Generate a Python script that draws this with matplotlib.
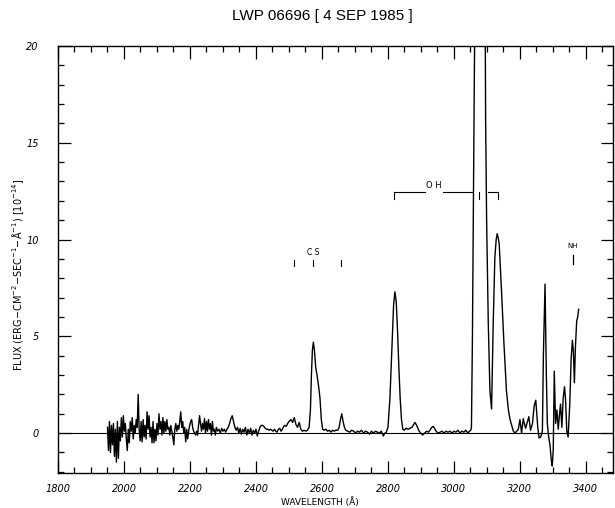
import numpy as np
import matplotlib.pyplot as plt
from matplotlib.ticker import MultipleLocator

# espectro (longitud de onda en A, flujo en 1e-14)
wave = [1950, 1953, 1956, 1959, 1962, 1965, 1968, 1971, 1974, 1977,
        1980, 1983, 1986, 1989, 1992, 1995, 1998, 2001, 2004, 2007,
        2010, 2013, 2016, 2019, 2022, 2025, 2028, 2031, 2034, 2037,
        2040, 2043, 2046, 2049, 2052, 2055, 2058, 2061, 2064, 2067,
        2070, 2073, 2076, 2079, 2082, 2085, 2088, 2091, 2094, 2097,
        2100, 2103, 2106, 2109, 2112, 2115, 2118, 2121, 2124, 2127,
        2130, 2133, 2136, 2139, 2142, 2145, 2148, 2151, 2154, 2157,
        2160, 2163, 2166, 2169, 2172, 2175, 2178, 2181, 2184, 2187,
        2190, 2193, 2196, 2199, 2202, 2205, 2208, 2211, 2214, 2217,
        2220, 2223, 2226, 2229, 2232, 2235, 2238, 2241, 2244, 2247,
        2250, 2253, 2256, 2259, 2262, 2265, 2268, 2271, 2274, 2277,
        2280, 2284, 2288, 2292, 2296, 2300, 2304, 2308, 2312, 2316,
        2320, 2324, 2328, 2332, 2336, 2340, 2344, 2348, 2352, 2356,
        2360, 2364, 2368, 2372, 2376, 2380, 2384, 2388, 2392, 2396,
        2400, 2404, 2408, 2412, 2416, 2420, 2424, 2428, 2432, 2436,
        2440, 2444, 2448, 2452, 2456, 2460, 2464, 2468, 2472, 2476,
        2480, 2484, 2488, 2492, 2496, 2500, 2506, 2511, 2516, 2521,
        2526, 2531, 2536, 2541, 2546, 2551, 2556, 2561, 2565, 2568,
        2571, 2574, 2577, 2581, 2585, 2590, 2594, 2598, 2602, 2607,
        2612, 2617, 2622, 2627, 2632, 2637, 2642, 2648, 2652, 2656,
        2660, 2664, 2668, 2672, 2678, 2684, 2690, 2696, 2702, 2708,
        2714, 2720, 2726, 2732, 2738, 2744, 2750, 2756, 2762, 2768,
        2774, 2780, 2786, 2790, 2794, 2800, 2806, 2812, 2817, 2821,
        2825, 2829, 2833, 2837, 2841, 2845, 2849, 2855, 2861, 2867,
        2873, 2878, 2882, 2887, 2893, 2899, 2905, 2911, 2917, 2923,
        2929, 2933, 2937, 2941, 2946, 2952, 2958, 2964, 2970, 2976,
        2982, 2988, 2994, 3000, 3006, 3012, 3018, 3024, 3030, 3036,
        3042, 3047, 3051, 3053, 3056, 3059, 3062, 3066, 3072, 3078,
        3084, 3090, 3094, 3096, 3099, 3104, 3109, 3114, 3119, 3124,
        3128, 3131, 3134, 3137, 3140, 3144, 3151, 3159, 3165, 3170,
        3175, 3180, 3185, 3190, 3195, 3200, 3205, 3210, 3217, 3223,
        3227, 3232, 3238, 3243, 3248, 3254, 3258, 3263, 3268, 3271,
        3276, 3280, 3283, 3287, 3291, 3295, 3298, 3301, 3304, 3308,
        3312, 3316, 3320, 3323, 3327, 3331, 3335, 3338, 3342, 3346,
        3351, 3355, 3359, 3362, 3365, 3368, 3372, 3375, 3378]

flux = [0.3, -0.9, 0.6, -1.0, 0.4, -0.6, 0.5, -1.2, 0.2, -1.5,
        0.6, -1.3, 0.3, -0.4, 0.8, -0.2, 0.9, 0.1, 0.5, -0.3,
        -0.9, 0.2, -0.5, 0.6, 0.1, 0.8, -0.3, 0.4, 0.0, 0.7,
        0.3, 2.0, 0.2, -0.4, 0.6, -0.45, 0.7, -0.2, 0.4, -0.3,
        1.1, 0.2, 0.9, -0.2, 0.3, -0.5, 0.6, -0.5, 0.2, -0.4,
        0.5, -0.1, 1.0, 0.2, 0.6, -0.1, 0.8, 0.0, 0.6, 0.1,
        0.7, 0.2, 0.3, -0.1, 0.4, 0.1, -0.2, -0.6, 0.2, 0.5,
        0.1, 0.4, 0.2, 0.6, 1.1, 0.3, 0.6, 0.0, 0.3, -0.45,
        0.2, -0.3, 0.1, 0.4, 0.6, 0.7, 0.3, 0.1, 0.0, -0.1,
        0.1, -0.1, 0.4, 0.9, 0.5, 0.1, 0.5, 0.2, 0.75, 0.0,
        0.6, 0.1, 0.7, 0.2, 0.5, -0.1, 0.6, 0.1, 0.2, -0.1,
        0.3, 0.1, 0.2, 0.0, 0.25, 0.1, 0.2, 0.05, 0.2, 0.3,
        0.5, 0.75, 0.9, 0.6, 0.3, 0.15, 0.3, 0.0, 0.25, -0.05,
        0.2, 0.05, 0.3, -0.1, 0.2, 0.0, 0.25, -0.1, 0.15, 0.0,
        0.2, -0.15, 0.1, 0.3, 0.4, 0.4, 0.35, 0.25, 0.2, 0.2,
        0.15, 0.2, 0.15, 0.1, 0.2, 0.1, 0.05, 0.2, 0.25, 0.1,
        0.2, 0.35, 0.4, 0.35, 0.5, 0.6, 0.7, 0.55, 0.8, 0.45,
        0.3, 0.55, 0.2, 0.1, 0.15, 0.1, 0.15, 0.3, 1.2, 3.0,
        4.3, 4.7, 4.3, 3.4, 3.0, 2.4, 1.8, 0.7, 0.2, 0.15,
        0.2, 0.1, 0.15, 0.05, 0.15, 0.1, 0.15, 0.15, 0.3, 0.7,
        1.0, 0.6, 0.3, 0.15, 0.1, 0.05, 0.15, 0.1, 0.0, 0.1,
        0.05, 0.15, 0.0, 0.1, 0.05, -0.05, 0.1, 0.0, 0.1, 0.05,
        0.0, 0.1, -0.15, 0.0, 0.0, 0.3, 1.8, 4.5, 6.6, 7.3,
        6.8, 5.3, 3.4, 1.8, 0.7, 0.2, 0.15, 0.25, 0.2, 0.25,
        0.3, 0.45, 0.55, 0.4, 0.15, 0.0, -0.1, 0.0, 0.1, 0.05,
        0.2, 0.3, 0.35, 0.25, 0.1, 0.0, 0.05, 0.1, 0.0, 0.1,
        0.05, 0.1, 0.0, 0.1, 0.05, 0.15, 0.0, 0.1, 0.05, 0.15,
        0.0, 0.1, 0.15, 0.3, 5.0, 12.0, 19.0, 26.0, 30.0, 32.0,
        32.0, 30.0, 24.0, 16.1, 11.0, 5.7, 2.2, 1.25, 5.7, 9.1,
        10.0, 10.3, 10.1, 9.8, 8.8, 7.4, 4.8, 2.2, 1.2, 0.7,
        0.4, 0.1, 0.0, 0.1, 0.2, 0.7, 0.0, 0.75, 0.25, 0.6,
        0.85, 0.15, 0.5, 1.4, 1.7, 0.3, -0.25, -0.2, 0.1, 4.0,
        7.7, 3.0, 0.5, -0.2, -0.6, -1.4, -1.7, -0.8, 3.2, 0.5,
        1.2, 0.2, 1.0, 1.5, 0.3, 1.8, 2.4, 1.8, 0.1, -0.2,
        1.5, 3.8, 4.8, 4.2, 2.6, 4.4, 5.8, 6.0, 6.4]

# ticks de identificacion
cs_ticks = [2515, 2573, 2658]
oh_ticks = [2818, 3076, 3133]
nh_tick = 3361

fig = plt.figure(figsize=(6.15, 5.08), dpi=100)
ax = fig.add_axes([58 / 615, 1 - 473 / 508, 555 / 615, 427 / 508])

ax.axhline(0, color='black', lw=0.8)
ax.plot(wave, flux, color='black', lw=1.0)

ax.set_xlim(1800, 3482)
ax.set_ylim(-2.06, 20)

ax.xaxis.set_major_locator(MultipleLocator(200))
ax.xaxis.set_minor_locator(MultipleLocator(50))
ax.yaxis.set_major_locator(MultipleLocator(5))
ax.yaxis.set_minor_locator(MultipleLocator(1))
ax.tick_params(which='both', direction='in', top=True, right=True, width=0.9,
               labelsize=7, pad=8)
ax.tick_params(which='major', length=9)
ax.tick_params(which='minor', length=4)
ax.tick_params(axis='y', pad=14)
for lab in ax.get_xticklabels() + ax.get_yticklabels():
    lab.set_fontstyle('oblique')
for s in ax.spines.values():
    s.set_linewidth(1.0)

# etiquetas C S
ax.text(2573, 9.35, 'C S', fontsize=5.5, ha='center', va='center')
for w in cs_ticks:
    ax.plot([w, w], [8.62, 8.95], color='black', lw=0.8)

# corchete O H
ax.plot([2818, 2912], [12.47, 12.47], color='black', lw=0.8)
ax.plot([2966, 3055], [12.47, 12.47], color='black', lw=0.8)
ax.plot([3104, 3133], [12.47, 12.47], color='black', lw=0.8)
for w in oh_ticks:
    ax.plot([w, w], [12.1, 12.47], color='black', lw=0.8)
ax.text(2939, 12.8, 'O H', fontsize=6, ha='center', va='center')

# N H
ax.text(nh_tick, 9.65, 'NH', fontsize=5, ha='center', va='center')
ax.plot([nh_tick, nh_tick], [8.75, 9.2], color='black', lw=0.9)

fig.text(322 / 615, 1 - 16 / 508, 'LWP 06696 [ 4 SEP 1985 ]', fontsize=11,
         family='Liberation Sans', ha='center', va='center')
fig.text(320 / 615, 1 - 502 / 508, 'WAVELENGTH (Å)', fontsize=6.5,
         ha='center', va='center')
fig.text(18 / 615, 1 - 275 / 508,
         r'FLUX (ERG$-$CM$^{-2}$$-$SEC$^{-1}$$-$Å$^{-1}$) [10$^{-14}$]',
         fontsize=7, rotation=90, ha='center', va='center')

fig.savefig('out.png', dpi=100)
